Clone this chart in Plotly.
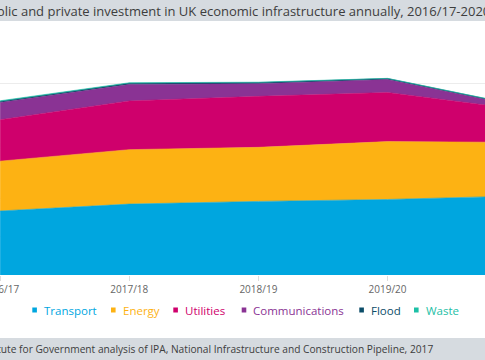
import plotly.graph_objects as go

# ---- data (£bn) ----
years = ["2016/17", "2017/18", "2018/19", "2019/20", "2020/21"]
transport = [16.7, 18.5, 19.2, 19.7, 20.6]
energy = [13.0, 14.2, 14.1, 15.1, 14.0]
utilities = [10.8, 12.7, 13.3, 12.8, 8.7]
communications = [4.5, 4.3, 3.3, 3.4, 0.9]
flood = [0.25, 0.3, 0.3, 0.25, 0.15]
waste = [0.2, 0.15, 0.1, 0.05, 0.05]

series_names = ["Transport", "Energy", "Utilities", "Communications", "Flood", "Waste"]
series_values = [transport, energy, utilities, communications, flood, waste]
series_colors = ["#00a6df", "#fdb213", "#cf006c", "#8a3394", "#0c4d69", "#1dc0a6"]

title_text = "Public and private investment in UK economic infrastructure annually, 2016/17-2020/21"
source_text = "Source: Institute for Government analysis of IPA, National Infrastructure and Construction Pipeline, 2017"

FONT = "Open Sans"
W, H = 485, 360
ML, MR, MT, MB = 0, 0, 45, 85
PH = H - MT - MB

fig = go.Figure()
for name, vals, col in zip(series_names, series_values, series_colors):
    fig.add_trace(go.Scatter(
        x=years, y=vals, name=name, mode="lines",
        stackgroup="one", line=dict(color=col, width=0.6),
        fillcolor=col, showlegend=False,
    ))

def py(px):  # pixel y -> paper y
    return (H - MB - px) / PH

def px_(x):
    return x / W

shapes = [
    dict(type="rect", xref="paper", yref="paper", x0=-0.1, x1=1.1,
         y0=py(21), y1=py(-5), fillcolor="#d6dbe0", line_width=0, layer="below"),
    dict(type="rect", xref="paper", yref="paper", x0=-0.1, x1=1.1,
         y0=py(365), y1=py(338), fillcolor="#d6dbe0", line_width=0, layer="below"),
]

annotations = [
    dict(text=title_text, xref="paper", yref="paper", x=px_(-21), y=py(10.5),
         xanchor="left", yanchor="middle", showarrow=False,
         font=dict(family=FONT, size=13.0, color="#3d3d3d")),
    dict(text=source_text, xref="paper", yref="paper", x=px_(435), y=py(349),
         xanchor="right", yanchor="middle", showarrow=False,
         font=dict(family=FONT, size=10.2, color="#3d3d3d")),
]

# custom legend: small squares + coloured names
legend_x = [32.3, 111, 173.3, 241.7, 359.3, 414]
legend_y = 310
for name, col, lx in zip(series_names, series_colors, legend_x):
    shapes.append(dict(type="rect", xref="paper", yref="paper",
                       x0=px_(lx), x1=px_(lx + 4.6), y0=py(legend_y + 2.5), y1=py(legend_y - 2.5),
                       fillcolor=col, line_width=0))
    annotations.append(dict(text=name, xref="paper", yref="paper", x=px_(lx + 9.5), y=py(legend_y),
                            xanchor="left", yanchor="middle", showarrow=False,
                            font=dict(family=FONT, size=11.5, color=col)))

fig.update_layout(
    width=W, height=H,
    margin=dict(l=ML, r=MR, t=MT, b=MB, pad=0, autoexpand=False),
    paper_bgcolor="white", plot_bgcolor="white",
    showlegend=False,
    font=dict(family=FONT, size=10, color="#666666"),
    xaxis=dict(type="category", categoryorder="array", categoryarray=years,
               range=[-0.001, 3.755], showgrid=False, zeroline=False, automargin=False,
               ticks="outside", ticklen=5, tickcolor="#dddddd", tickwidth=1,
               ticklabeloverflow="allow",
               showline=False, tickfont=dict(family=FONT, size=10, color="#666666")),
    yaxis=dict(range=[0, 60], dtick=10, showgrid=True, gridcolor="#ececec", gridwidth=1,
               zeroline=False, showticklabels=False, ticks="", automargin=False),
    shapes=shapes, annotations=annotations,
)

fig.write_html("out.html", config={"displayModeBar": False},
               post_script="document.body.style.margin='0px';")
